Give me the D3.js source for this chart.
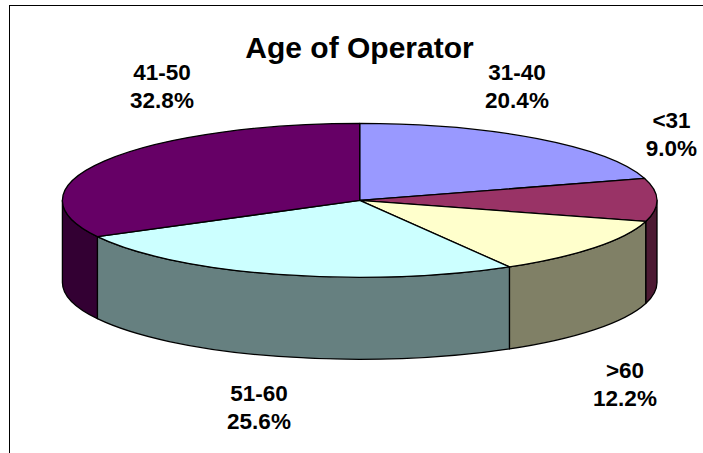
<!DOCTYPE html>
<html><head><meta charset="utf-8">
<style>html,body{margin:0;padding:0;background:#fff}svg{display:block}
text{font-family:"Liberation Sans",Arial,sans-serif;font-weight:bold;fill:#000;text-anchor:middle}</style>
<script src="https://cdn.jsdelivr.net/npm/d3@7/dist/d3.min.js"></script>
</head><body><div id="c"></div>
<script>
const categories=["31-40","<31",">60","51-60","41-50"];
const values=[20.4,9.0,12.2,25.6,32.8];
const topColors=["#9999FF","#993366","#FFFFCC","#CCFFFF","#660066"];
const sideColors=["#4D4D80","#4D1A33","#808066","#668080","#330033"];
const labelX=[517,671.5,625,259,162];
const labelY=[80,128,378,401,80];
const W=703,H=453,cx=359.7,cy=200.4,rx=297.3,ry=77,depth=82;
const svg=d3.select("#c").append("svg").attr("width",W).attr("height",H);
svg.append("rect").attr("x",9.5).attr("y",5.5).attr("width",W+20).attr("height",H+20).attr("fill","#fff").attr("stroke","#000");
const pie=d3.pie().sort(null).value(d=>d);
const arcs=pie(values);
const px=a=>cx+rx*Math.sin(a), py=a=>cy-ry*Math.cos(a);
const PI=Math.PI;
// side walls: the visible front half, angles PI/2 .. 3PI/2
function wall(a0,a1){
  const s=Math.max(a0,PI/2),e=Math.min(a1,3*PI/2);
  if(e<=s) return null;
  return `M${px(s)},${py(s)}A${rx},${ry} 0 0 1 ${px(e)},${py(e)}L${px(e)},${py(e)+depth}A${rx},${ry} 0 0 0 ${px(s)},${py(s)+depth}Z`;
}
const g=svg.append("g").attr("stroke","#000").attr("stroke-width",1.3).attr("stroke-linejoin","round");
g.selectAll("path.side").data(arcs).join("path").attr("class","side")
 .attr("d",d=>wall(d.startAngle,d.endAngle)).attr("fill",(d,i)=>sideColors[i]);
g.selectAll("path.top").data(arcs).join("path").attr("class","top")
 .attr("d",d=>`M${cx},${cy}L${px(d.startAngle)},${py(d.startAngle)}A${rx},${ry} 0 ${d.endAngle-d.startAngle>PI?1:0} 1 ${px(d.endAngle)},${py(d.endAngle)}Z`)
 .attr("fill",(d,i)=>topColors[i]);
svg.append("text").attr("x",359.5).attr("y",58).attr("font-size",30).text("Age of Operator");
categories.forEach((c,i)=>{
  const t=svg.append("text").attr("font-size",22.5);
  t.append("tspan").attr("x",labelX[i]).attr("y",labelY[i]).text(c);
  t.append("tspan").attr("x",labelX[i]).attr("y",labelY[i]+28).text(values[i].toFixed(1)+"%");
});
</script></body></html>
